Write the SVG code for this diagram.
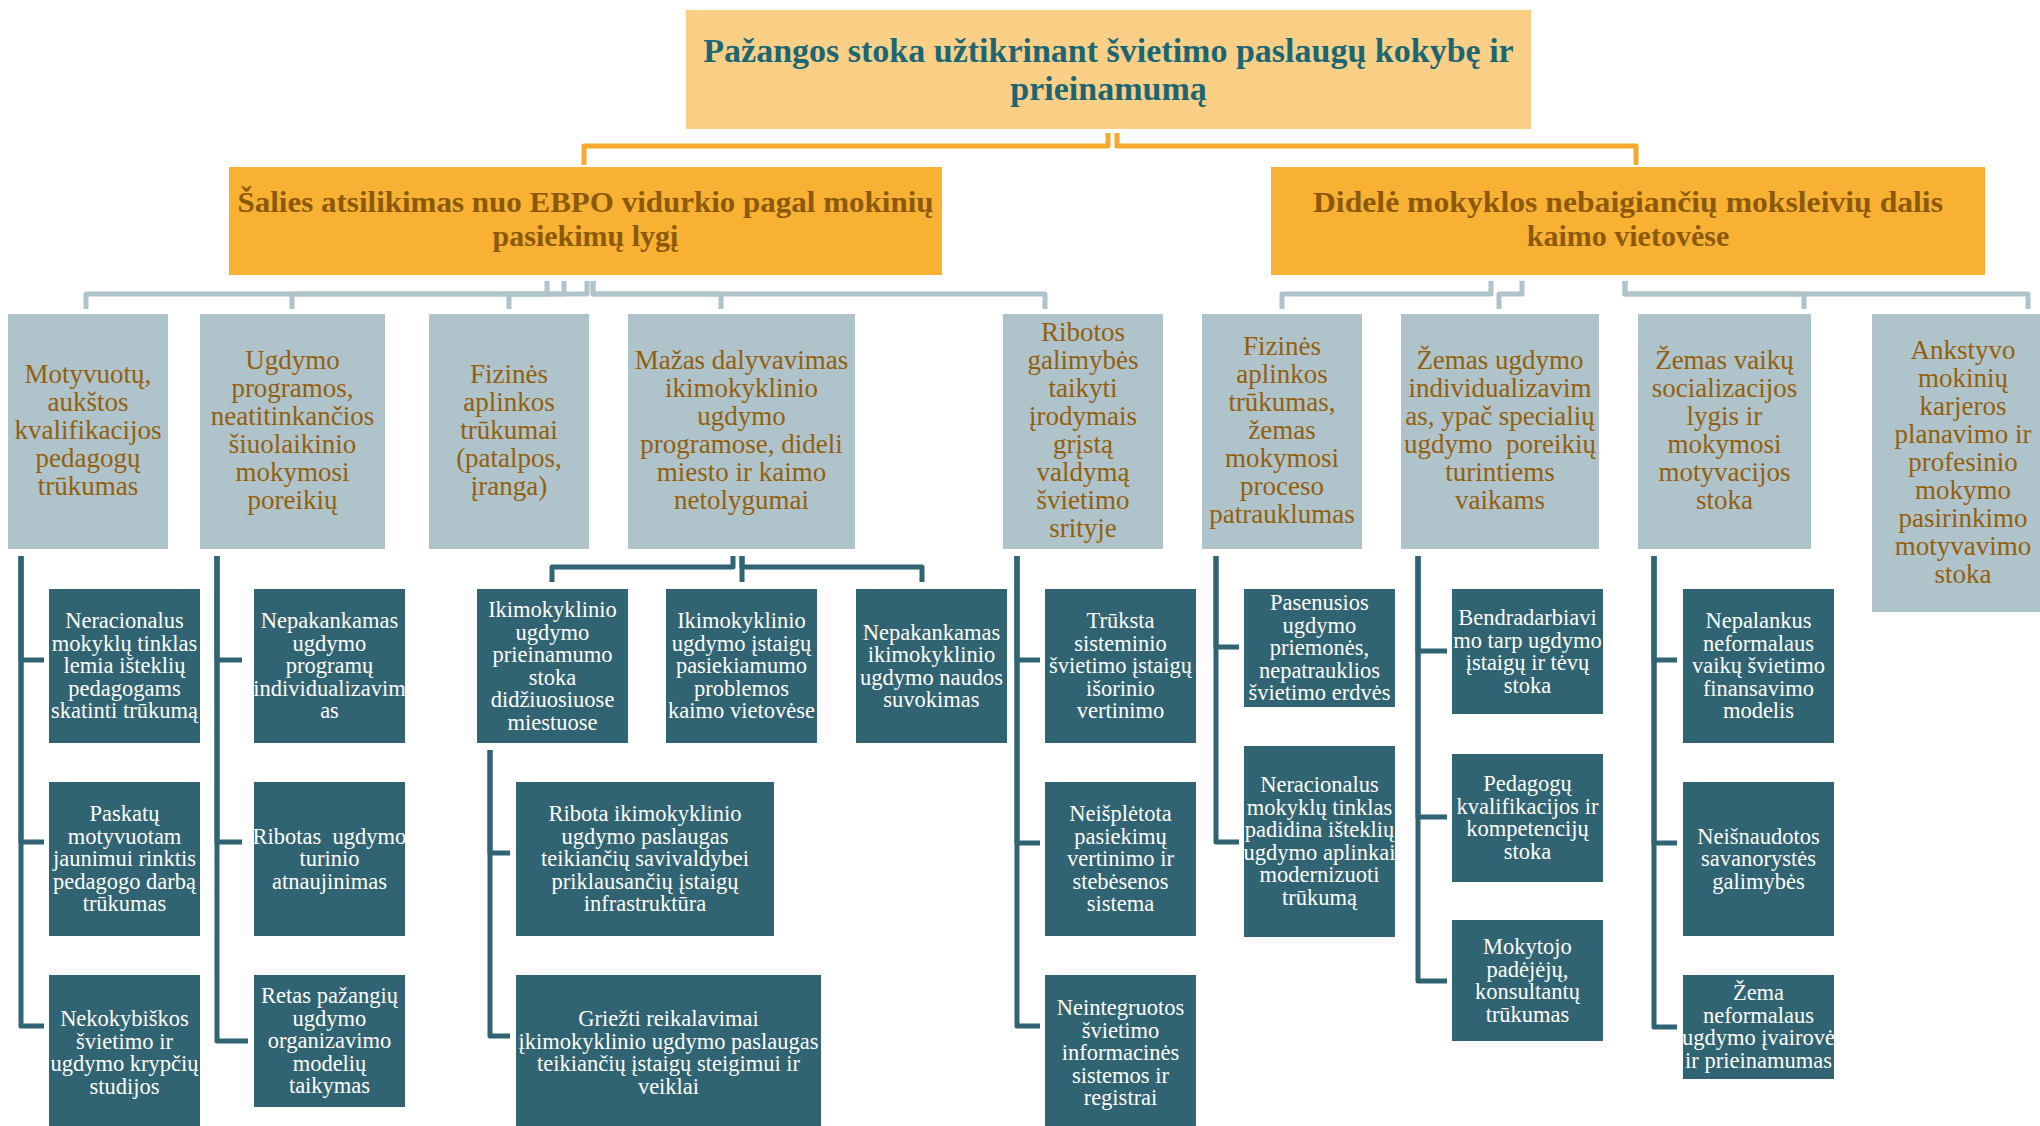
<svg xmlns="http://www.w3.org/2000/svg" width="2040" height="1126" viewBox="0 0 2040 1126">
  <style>
    .b0 { fill: #FCCF87; }
    .b1 { fill: #F9B133; }
    .b2 { fill: #AFC3CB; }
    .b3 { fill: #306472; }
    text { font-family: "Liberation Serif", "Times New Roman", serif; text-anchor: middle; }
    .t0 { font-size: 34px; font-weight: bold; fill: #1B6673; }
    .t1 { font-size: 30px; font-weight: bold; fill: #8C5A07; }
    .t2 { font-size: 27px; fill: #935F0B; }
    .t3 { font-size: 22.5px; fill: #FFFFFF; }
    .co, .cg, .ct { fill: none; stroke-width: 5; stroke-linejoin: round; }
    .co { stroke: #F6A92C; }
    .cg { stroke: #AFC3CB; }
    .ct { stroke: #306472; }
  </style>
  <rect width="2040" height="1126" fill="#FFFFFF"/>

  <!-- connectors -->
  <g id="connectors">
    <!-- root to level 1 -->
    <path class="co" d="M1108,133 V146 H584 V165"/>
    <path class="co" d="M1117,133 V146 H1636 V165"/>
    <!-- left level 1 to causes -->
    <path class="cg" d="M547,281 V294 H86 V309"/>
    <path class="cg" d="M564,281 V294 H292 V309"/>
    <path class="cg" d="M587,281 V294 H509 V309"/>
    <path class="cg" d="M593,281 V294 H721 V309"/>
    <path class="cg" d="M593,281 V294 H1045 V309"/>
    <!-- right level 1 to causes -->
    <path class="cg" d="M1491,281 V294 H1282 V309"/>
    <path class="cg" d="M1522,281 V294 H1499 V309"/>
    <path class="cg" d="M1625,281 V294 H1804 V309"/>
    <path class="cg" d="M1625,281 V294 H2028 V309"/>
    <!-- column A -->
    <path class="ct" d="M21,556 V660 H44"/>
    <path class="ct" d="M21,556 V842 H44"/>
    <path class="ct" d="M21,556 V1026 H44"/>
    <!-- column B -->
    <path class="ct" d="M217,556 V660 H242"/>
    <path class="ct" d="M217,556 V842 H242"/>
    <path class="ct" d="M217,556 V1041 H248"/>
    <!-- preschool bracket -->
    <path class="ct" d="M733,556 V567 H552 V582"/>
    <path class="ct" d="M742,556 V582"/>
    <path class="ct" d="M742,556 V567 H922 V582"/>
    <path class="ct" d="M490,750 V853 H510"/>
    <path class="ct" d="M490,750 V1036 H510"/>
    <!-- column D -->
    <path class="ct" d="M1017,556 V660 H1040"/>
    <path class="ct" d="M1017,556 V843 H1040"/>
    <path class="ct" d="M1017,556 V1026 H1040"/>
    <!-- column E -->
    <path class="ct" d="M1216,556 V647 H1239"/>
    <path class="ct" d="M1216,556 V842 H1239"/>
    <!-- column F -->
    <path class="ct" d="M1418,556 V651 H1447"/>
    <path class="ct" d="M1418,556 V817 H1447"/>
    <path class="ct" d="M1418,556 V981 H1447"/>
    <!-- column G -->
    <path class="ct" d="M1654,556 V660 H1677"/>
    <path class="ct" d="M1654,556 V843 H1677"/>
    <path class="ct" d="M1654,556 V1027 H1677"/>
  </g>

  <!-- root -->
  <g id="root">
    <rect class="b0" x="686" y="10" width="845" height="119"/>
    <text class="t0"><tspan x="1108.5" y="62">Pažangos stoka užtikrinant švietimo paslaugų kokybę ir</tspan><tspan x="1108.5" y="100">prieinamumą</tspan></text>
  </g>

  <!-- level 1 -->
  <g id="n-ebpo">
    <rect class="b1" x="229" y="167" width="713" height="108"/>
    <text class="t1"><tspan x="585.5" y="212" textLength="696" lengthAdjust="spacingAndGlyphs">Šalies atsilikimas nuo EBPO vidurkio pagal mokinių</tspan><tspan x="585.5" y="246">pasiekimų lygį</tspan></text>
  </g>
  <g id="n-dropout">
    <rect class="b1" x="1271" y="167" width="714" height="108"/>
    <text class="t1"><tspan x="1628" y="212" textLength="630" lengthAdjust="spacingAndGlyphs">Didelė mokyklos nebaigiančių moksleivių dalis</tspan><tspan x="1628" y="246">kaimo vietovėse</tspan></text>
  </g>

  <!-- level 2 -->
  <g id="n-pedagogai">
    <rect class="b2" x="8" y="314" width="160" height="235"/>
    <text class="t2"><tspan x="88" y="383">Motyvuotų,</tspan><tspan x="88" y="411">aukštos</tspan><tspan x="88" y="439">kvalifikacijos</tspan><tspan x="88" y="467">pedagogų</tspan><tspan x="88" y="495">trūkumas</tspan></text>
  </g>
  <g id="n-programos">
    <rect class="b2" x="200" y="314" width="185" height="235"/>
    <text class="t2"><tspan x="292.5" y="369">Ugdymo</tspan><tspan x="292.5" y="397">programos,</tspan><tspan x="292.5" y="425">neatitinkančios</tspan><tspan x="292.5" y="453">šiuolaikinio</tspan><tspan x="292.5" y="481">mokymosi</tspan><tspan x="292.5" y="509">poreikių</tspan></text>
  </g>
  <g id="n-aplinka">
    <rect class="b2" x="429" y="314" width="160" height="235"/>
    <text class="t2"><tspan x="509" y="383">Fizinės</tspan><tspan x="509" y="411">aplinkos</tspan><tspan x="509" y="439">trūkumai</tspan><tspan x="509" y="467">(patalpos,</tspan><tspan x="509" y="495">įranga)</tspan></text>
  </g>
  <g id="n-ikimokyklinis">
    <rect class="b2" x="628" y="314" width="227" height="235"/>
    <text class="t2"><tspan x="741.5" y="369">Mažas dalyvavimas</tspan><tspan x="741.5" y="397">ikimokyklinio</tspan><tspan x="741.5" y="425">ugdymo</tspan><tspan x="741.5" y="453">programose, dideli</tspan><tspan x="741.5" y="481">miesto ir kaimo</tspan><tspan x="741.5" y="509">netolygumai</tspan></text>
  </g>
  <g id="n-valdymas">
    <rect class="b2" x="1003" y="314" width="160" height="235"/>
    <text class="t2"><tspan x="1083" y="341">Ribotos</tspan><tspan x="1083" y="369">galimybės</tspan><tspan x="1083" y="397">taikyti</tspan><tspan x="1083" y="425">įrodymais</tspan><tspan x="1083" y="453">grįstą</tspan><tspan x="1083" y="481">valdymą</tspan><tspan x="1083" y="509">švietimo</tspan><tspan x="1083" y="537">srityje</tspan></text>
  </g>
  <g id="n-patrauklumas">
    <rect class="b2" x="1202" y="314" width="160" height="235"/>
    <text class="t2"><tspan x="1282" y="355">Fizinės</tspan><tspan x="1282" y="383">aplinkos</tspan><tspan x="1282" y="411">trūkumas,</tspan><tspan x="1282" y="439">žemas</tspan><tspan x="1282" y="467">mokymosi</tspan><tspan x="1282" y="495">proceso</tspan><tspan x="1282" y="523">patrauklumas</tspan></text>
  </g>
  <g id="n-individualizavimas">
    <rect class="b2" x="1401" y="314" width="198" height="235"/>
    <text class="t2" xml:space="preserve"><tspan x="1500" y="369">Žemas ugdymo</tspan><tspan x="1500" y="397">individualizavim</tspan><tspan x="1500" y="425">as, ypač specialių</tspan><tspan x="1500" y="453">ugdymo  poreikių</tspan><tspan x="1500" y="481">turintiems</tspan><tspan x="1500" y="509">vaikams</tspan></text>
  </g>
  <g id="n-socializacija">
    <rect class="b2" x="1638" y="314" width="173" height="235"/>
    <text class="t2"><tspan x="1724.5" y="369">Žemas vaikų</tspan><tspan x="1724.5" y="397">socializacijos</tspan><tspan x="1724.5" y="425">lygis ir</tspan><tspan x="1724.5" y="453">mokymosi</tspan><tspan x="1724.5" y="481">motyvacijos</tspan><tspan x="1724.5" y="509">stoka</tspan></text>
  </g>
  <g id="n-karjera">
    <rect class="b2" x="1872" y="314" width="168" height="298"/>
    <text class="t2"><tspan x="1963" y="359">Ankstyvo</tspan><tspan x="1963" y="387">mokinių</tspan><tspan x="1963" y="415">karjeros</tspan><tspan x="1963" y="443">planavimo ir</tspan><tspan x="1963" y="471">profesinio</tspan><tspan x="1963" y="499">mokymo</tspan><tspan x="1963" y="527">pasirinkimo</tspan><tspan x="1963" y="555">motyvavimo</tspan><tspan x="1963" y="583">stoka</tspan></text>
  </g>

  <!-- level 3: column A -->
  <g id="n-a1">
    <rect class="b3" x="49" y="589" width="151" height="154"/>
    <text class="t3"><tspan x="124.5" y="628">Neracionalus</tspan><tspan x="124.5" y="650.5">mokyklų tinklas</tspan><tspan x="124.5" y="673">lemia išteklių</tspan><tspan x="124.5" y="695.5">pedagogams</tspan><tspan x="124.5" y="718">skatinti trūkumą</tspan></text>
  </g>
  <g id="n-a2">
    <rect class="b3" x="49" y="782" width="151" height="154"/>
    <text class="t3"><tspan x="124.5" y="821">Paskatų</tspan><tspan x="124.5" y="843.5">motyvuotam</tspan><tspan x="124.5" y="866">jaunimui rinktis</tspan><tspan x="124.5" y="888.5">pedagogo darbą</tspan><tspan x="124.5" y="911">trūkumas</tspan></text>
  </g>
  <g id="n-a3">
    <rect class="b3" x="49" y="975" width="151" height="156"/>
    <text class="t3"><tspan x="124.5" y="1026">Nekokybiškos</tspan><tspan x="124.5" y="1048.5">švietimo ir</tspan><tspan x="124.5" y="1071">ugdymo krypčių</tspan><tspan x="124.5" y="1093.5">studijos</tspan></text>
  </g>

  <!-- level 3: column B -->
  <g id="n-b1">
    <rect class="b3" x="254" y="589" width="151" height="154"/>
    <text class="t3"><tspan x="329.5" y="628">Nepakankamas</tspan><tspan x="329.5" y="650.5">ugdymo</tspan><tspan x="329.5" y="673">programų</tspan><tspan x="329.5" y="695.5">individualizavim</tspan><tspan x="329.5" y="718">as</tspan></text>
  </g>
  <g id="n-b2">
    <rect class="b3" x="254" y="782" width="151" height="154"/>
    <text class="t3" xml:space="preserve"><tspan x="329.5" y="843.5">Ribotas  ugdymo</tspan><tspan x="329.5" y="866">turinio</tspan><tspan x="329.5" y="888.5">atnaujinimas</tspan></text>
  </g>
  <g id="n-b3">
    <rect class="b3" x="254" y="975" width="151" height="132"/>
    <text class="t3"><tspan x="329.5" y="1003">Retas pažangių</tspan><tspan x="329.5" y="1025.5">ugdymo</tspan><tspan x="329.5" y="1048">organizavimo</tspan><tspan x="329.5" y="1070.5">modelių</tspan><tspan x="329.5" y="1093">taikymas</tspan></text>
  </g>

  <!-- level 3: preschool -->
  <g id="n-c1">
    <rect class="b3" x="477" y="589" width="151" height="154"/>
    <text class="t3"><tspan x="552.5" y="617">Ikimokyklinio</tspan><tspan x="552.5" y="639.5">ugdymo</tspan><tspan x="552.5" y="662">prieinamumo</tspan><tspan x="552.5" y="684.5">stoka</tspan><tspan x="552.5" y="707">didžiuosiuose</tspan><tspan x="552.5" y="729.5">miestuose</tspan></text>
  </g>
  <g id="n-c2">
    <rect class="b3" x="666" y="589" width="151" height="154"/>
    <text class="t3"><tspan x="741.5" y="628">Ikimokyklinio</tspan><tspan x="741.5" y="650.5">ugdymo įstaigų</tspan><tspan x="741.5" y="673">pasiekiamumo</tspan><tspan x="741.5" y="695.5">problemos</tspan><tspan x="741.5" y="718">kaimo vietovėse</tspan></text>
  </g>
  <g id="n-c3">
    <rect class="b3" x="856" y="589" width="151" height="154"/>
    <text class="t3"><tspan x="931.5" y="639.5">Nepakankamas</tspan><tspan x="931.5" y="662">ikimokyklinio</tspan><tspan x="931.5" y="684.5">ugdymo naudos</tspan><tspan x="931.5" y="707">suvokimas</tspan></text>
  </g>
  <g id="n-c1a">
    <rect class="b3" x="516" y="782" width="258" height="154"/>
    <text class="t3"><tspan x="645" y="821">Ribota ikimokyklinio</tspan><tspan x="645" y="843.5">ugdymo paslaugas</tspan><tspan x="645" y="866">teikiančių savivaldybei</tspan><tspan x="645" y="888.5">priklausančių įstaigų</tspan><tspan x="645" y="911">infrastruktūra</tspan></text>
  </g>
  <g id="n-c1b">
    <rect class="b3" x="516" y="975" width="305" height="156"/>
    <text class="t3"><tspan x="668.5" y="1026">Griežti reikalavimai</tspan><tspan x="668.5" y="1048.5">įkimokyklinio ugdymo paslaugas</tspan><tspan x="668.5" y="1071">teikiančių įstaigų steigimui ir</tspan><tspan x="668.5" y="1093.5">veiklai</tspan></text>
  </g>

  <!-- level 3: column D -->
  <g id="n-d1">
    <rect class="b3" x="1045" y="589" width="151" height="154"/>
    <text class="t3"><tspan x="1120.5" y="628">Trūksta</tspan><tspan x="1120.5" y="650.5">sisteminio</tspan><tspan x="1120.5" y="673">švietimo įstaigų</tspan><tspan x="1120.5" y="695.5">išorinio</tspan><tspan x="1120.5" y="718">vertinimo</tspan></text>
  </g>
  <g id="n-d2">
    <rect class="b3" x="1045" y="782" width="151" height="154"/>
    <text class="t3"><tspan x="1120.5" y="821">Neišplėtota</tspan><tspan x="1120.5" y="843.5">pasiekimų</tspan><tspan x="1120.5" y="866">vertinimo ir</tspan><tspan x="1120.5" y="888.5">stebėsenos</tspan><tspan x="1120.5" y="911">sistema</tspan></text>
  </g>
  <g id="n-d3">
    <rect class="b3" x="1045" y="975" width="151" height="156"/>
    <text class="t3"><tspan x="1120.5" y="1015">Neintegruotos</tspan><tspan x="1120.5" y="1037.5">švietimo</tspan><tspan x="1120.5" y="1060">informacinės</tspan><tspan x="1120.5" y="1082.5">sistemos ir</tspan><tspan x="1120.5" y="1105">registrai</tspan></text>
  </g>

  <!-- level 3: column E -->
  <g id="n-e1">
    <rect class="b3" x="1244" y="589" width="151" height="118"/>
    <text class="t3"><tspan x="1319.5" y="610">Pasenusios</tspan><tspan x="1319.5" y="632.5">ugdymo</tspan><tspan x="1319.5" y="655">priemonės,</tspan><tspan x="1319.5" y="677.5">nepatrauklios</tspan><tspan x="1319.5" y="700">švietimo erdvės</tspan></text>
  </g>
  <g id="n-e2">
    <rect class="b3" x="1244" y="746" width="151" height="191"/>
    <text class="t3"><tspan x="1319.5" y="792">Neracionalus</tspan><tspan x="1319.5" y="814.5">mokyklų tinklas</tspan><tspan x="1319.5" y="837">padidina išteklių</tspan><tspan x="1319.5" y="859.5">ugdymo aplinkai</tspan><tspan x="1319.5" y="882">modernizuoti</tspan><tspan x="1319.5" y="904.5">trūkumą</tspan></text>
  </g>

  <!-- level 3: column F -->
  <g id="n-f1">
    <rect class="b3" x="1452" y="589" width="151" height="125"/>
    <text class="t3"><tspan x="1527.5" y="625">Bendradarbiavi</tspan><tspan x="1527.5" y="647.5">mo tarp ugdymo</tspan><tspan x="1527.5" y="670">įstaigų ir tėvų</tspan><tspan x="1527.5" y="692.5">stoka</tspan></text>
  </g>
  <g id="n-f2">
    <rect class="b3" x="1452" y="754" width="151" height="128"/>
    <text class="t3"><tspan x="1527.5" y="791">Pedagogų</tspan><tspan x="1527.5" y="813.5">kvalifikacijos ir</tspan><tspan x="1527.5" y="836">kompetencijų</tspan><tspan x="1527.5" y="858.5">stoka</tspan></text>
  </g>
  <g id="n-f3">
    <rect class="b3" x="1452" y="920" width="151" height="121"/>
    <text class="t3"><tspan x="1527.5" y="954">Mokytojo</tspan><tspan x="1527.5" y="976.5">padėjėjų,</tspan><tspan x="1527.5" y="999">konsultantų</tspan><tspan x="1527.5" y="1021.5">trūkumas</tspan></text>
  </g>

  <!-- level 3: column G -->
  <g id="n-g1">
    <rect class="b3" x="1683" y="589" width="151" height="154"/>
    <text class="t3"><tspan x="1758.5" y="628">Nepalankus</tspan><tspan x="1758.5" y="650.5">neformalaus</tspan><tspan x="1758.5" y="673">vaikų švietimo</tspan><tspan x="1758.5" y="695.5">finansavimo</tspan><tspan x="1758.5" y="718">modelis</tspan></text>
  </g>
  <g id="n-g2">
    <rect class="b3" x="1683" y="782" width="151" height="154"/>
    <text class="t3"><tspan x="1758.5" y="843.5">Neišnaudotos</tspan><tspan x="1758.5" y="866">savanorystės</tspan><tspan x="1758.5" y="888.5">galimybės</tspan></text>
  </g>
  <g id="n-g3">
    <rect class="b3" x="1683" y="975" width="151" height="104"/>
    <text class="t3"><tspan x="1758.5" y="1000">Žema</tspan><tspan x="1758.5" y="1022.5">neformalaus</tspan><tspan x="1758.5" y="1045">ugdymo įvairovė</tspan><tspan x="1758.5" y="1067.5">ir prieinamumas</tspan></text>
  </g>
</svg>
